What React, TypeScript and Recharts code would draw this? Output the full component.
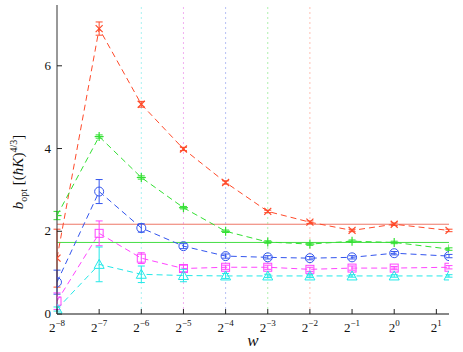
import React from "react";
import { ComposedChart, Line, XAxis, YAxis, ErrorBar, ReferenceLine } from "recharts";

// x positions are log2(w)
const logW = [-8, -7, -6, -5, -4, -3, -2, -1, 0, 1.3];
const xTicks = [-8, -7, -6, -5, -4, -3, -2, -1, 0, 1];
const yTicks = [0, 2, 4, 6];

const redVals = [1.35, 6.9, 5.07, 3.99, 3.18, 2.48, 2.22, 2.02, 2.17, 2.02];
const redErr = [0.7, 0.16, 0.07, 0.04, 0.04, 0.03, 0.03, 0.03, 0.03, 0.03];
const greenVals = [2.38, 4.29, 3.3, 2.57, 2.0, 1.74, 1.69, 1.76, 1.73, 1.57];
const greenErr = [0.1, 0.04, 0.04, 0.03, 0.03, 0.03, 0.03, 0.03, 0.03, 0.03];
const blueVals = [0.77, 2.96, 2.08, 1.64, 1.4, 1.37, 1.35, 1.37, 1.47, 1.4];
const blueErr = [0.29, 0.29, 0.1, 0.06, 0.05, 0.04, 0.04, 0.04, 0.04, 0.04];
const magentaVals = [0.31, 1.95, 1.35, 1.1, 1.13, 1.13, 1.08, 1.11, 1.11, 1.13];
const magentaErr = [0.2, 0.3, 0.13, 0.08, 0.05, 0.05, 0.05, 0.05, 0.04, 0.04];
const cyanVals = [0.12, 1.2, 0.96, 0.93, 0.92, 0.92, 0.92, 0.92, 0.92, 0.92];
const cyanErr = [0.05, 0.42, 0.2, 0.15, 0.06, 0.04, 0.04, 0.03, 0.03, 0.03];

const redLevel = 2.17;
const greenLevel = 1.73;

const RED = "#ff4a2a";
const GREEN = "#33e033";
const BLUE = "#3355ee";
const MAGENTA = "#ff44ff";
const CYAN = "#22e8e8";

const data = logW.map((x, i) => ({
  x,
  red: redVals[i],
  redErr: redErr[i],
  green: greenVals[i],
  greenErr: greenErr[i],
  blue: blueVals[i],
  blueErr: blueErr[i],
  magenta: magentaVals[i],
  magentaErr: magentaErr[i],
  cyan: cyanVals[i],
  cyanErr: cyanErr[i],
}));

const FONT = "Liberation Serif";

const makeDot = (kind: string, color: string) => (props: any) => {
  const { cx, cy, index } = props;
  if (cx == null || cy == null) return <g key={index} />;
  const s = 3.5;
  if (kind === "x")
    return (
      <g key={index} stroke={color} strokeWidth={1.2}>
        <line x1={cx - s} y1={cy - s} x2={cx + s} y2={cy + s} />
        <line x1={cx - s} y1={cy + s} x2={cx + s} y2={cy - s} />
      </g>
    );
  if (kind === "+")
    return (
      <g key={index} stroke={color} strokeWidth={1.2}>
        <line x1={cx - 4.5} y1={cy} x2={cx + 4.5} y2={cy} />
        <line x1={cx} y1={cy - 4.5} x2={cx} y2={cy + 4.5} />
      </g>
    );
  if (kind === "o") return <circle key={index} cx={cx} cy={cy} r={4.5} fill="none" stroke={color} strokeWidth={1} />;
  if (kind === "s")
    return <rect key={index} x={cx - 4} y={cy - 4} width={8} height={8} fill="none" stroke={color} strokeWidth={1} />;
  return (
    <polygon
      key={index}
      points={`${cx},${cy - 5} ${cx + 5},${cy + 4} ${cx - 5},${cy + 4}`}
      fill="none"
      stroke={color}
      strokeWidth={1}
    />
  );
};

const BottomTick = (props: any) => {
  const { x, y, payload } = props;
  const v = payload.value;
  return (
    <g>
      <line x1={x} y1={y} x2={x} y2={y - 5} stroke="#222" />
      <text x={x} y={y + 18} textAnchor="middle" fontFamily={FONT} fontSize={13} fill="#111">
        <tspan>2</tspan>
        <tspan dy={-6} fontSize={9}>
          {v < 0 ? "\u2212" + Math.abs(v) : String(v)}
        </tspan>
      </text>
    </g>
  );
};

const TopTick = (props: any) => {
  const { x, y } = props;
  return <line x1={x} y1={y} x2={x} y2={y + 5} stroke="#222" />;
};

const LeftTick = (props: any) => {
  const { x, y, payload } = props;
  return (
    <g>
      <line x1={x} y1={y} x2={x + 5} y2={y} stroke="#222" />
      <text x={x - 6} y={y + 4} textAnchor="end" fontFamily={FONT} fontSize={13} fill="#111">
        {payload.value}
      </text>
    </g>
  );
};

const RightTick = (props: any) => {
  const { x, y } = props;
  return <line x1={x} y1={y} x2={x - 5} y2={y} stroke="#222" />;
};

const series = [
  { key: "red", err: "redErr", color: RED, kind: "x" },
  { key: "green", err: "greenErr", color: GREEN, kind: "+" },
  { key: "blue", err: "blueErr", color: BLUE, kind: "o" },
  { key: "magenta", err: "magentaErr", color: MAGENTA, kind: "s" },
  { key: "cyan", err: "cyanErr", color: CYAN, kind: "t" },
];

const vLines = [
  { x: -6, color: "#a8f2f2" },
  { x: -5, color: "#f2b0f2" },
  { x: -4, color: "#b8c0f4" },
  { x: -3, color: "#aef0ae" },
  { x: -2, color: "#ffbfb2" },
];

export default function App() {
  return (
    <div style={{ position: "absolute", left: 0, top: 0, width: 463, height: 352, background: "#fff" }}>
      <ComposedChart width={463} height={352} data={data} margin={{ top: 5, right: 14, bottom: 0, left: 0 }}>
        <XAxis
          dataKey="x"
          type="number"
          domain={[-8, 1.3]}
          ticks={xTicks}
          allowDataOverflow
          height={38}
          tickSize={0}
          tickMargin={0}
          tickLine={false}
          tick={BottomTick}
          axisLine={{ stroke: "#888", strokeWidth: 2 }}
        />
        <XAxis
          xAxisId="top"
          orientation="top"
          dataKey="x"
          type="number"
          domain={[-8, 1.3]}
          ticks={xTicks}
          allowDataOverflow
          height={0}
          tickSize={0}
          tickMargin={0}
          tickLine={false}
          tick={TopTick}
          axisLine={{ stroke: "#333" }}
        />
        <YAxis
          type="number"
          domain={[0, 7.47]}
          ticks={yTicks}
          allowDataOverflow
          width={57}
          tickSize={0}
          tickMargin={0}
          tickLine={false}
          tick={LeftTick}
          axisLine={{ stroke: "#333" }}
        />
        <YAxis
          yAxisId="right"
          orientation="right"
          type="number"
          domain={[0, 7.47]}
          ticks={yTicks}
          allowDataOverflow
          width={0}
          tickSize={0}
          tickMargin={0}
          tickLine={false}
          tick={RightTick}
          axisLine={{ stroke: "#999", strokeWidth: 2.5 }}
        />
        {vLines.map((v) => (
          <ReferenceLine key={v.x} x={v.x} stroke={v.color} strokeDasharray="2 3" strokeWidth={1} />
        ))}
        <ReferenceLine y={redLevel} stroke="#ee7766" strokeWidth={1} />
        <ReferenceLine y={greenLevel} stroke="#44dd44" strokeWidth={1} />
        {series.map((s) => (
          <Line
            key={s.key}
            type="linear"
            dataKey={s.key}
            stroke={s.color}
            strokeWidth={1}
            strokeDasharray="6 4"
            dot={makeDot(s.kind, s.color)}
            activeDot={false}
            isAnimationActive={false}
          >
            <ErrorBar dataKey={s.err} direction="y" width={3.5} stroke={s.color} strokeWidth={1} />
          </Line>
        ))}
      </ComposedChart>
      <div
        style={{
          position: "absolute",
          left: 253,
          top: 349,
          transform: "translate(-50%, -100%)",
          fontFamily: FONT,
          fontStyle: "italic",
          fontSize: 17,
          color: "#111",
          lineHeight: 1,
        }}
      >
        w
      </div>
      <div
        style={{
          position: "absolute",
          left: 19,
          top: 172,
          transform: "translate(-50%, -50%) rotate(-90deg)",
          fontFamily: FONT,
          fontSize: 15,
          color: "#111",
          whiteSpace: "nowrap",
          lineHeight: 1,
        }}
      >
        <i>b</i>
        <sub style={{ fontSize: 10 }}>opt</sub> [(<i>ħK</i>)<sup style={{ fontSize: 10 }}>4/3</sup>]
      </div>
    </div>
  );
}
